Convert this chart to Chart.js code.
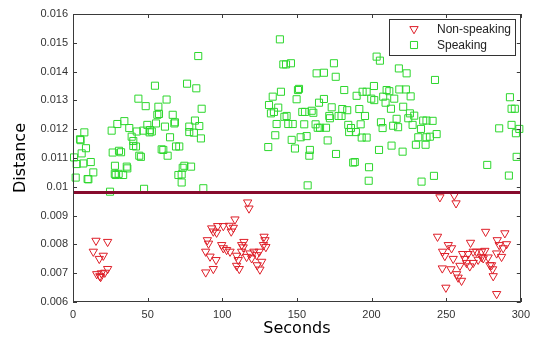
<html>
<head>
    <title>Distance vs Seconds</title>
    <script src="https://cdn.jsdelivr.net/npm/chart.js@4"></script>
    <style>
        body { margin: 0; background: #fff; }
    </style>
</head>
<body>
    <canvas id="distChart" width="536" height="340"></canvas>

    <script>
        var nonSpeakingX = [15.4, 23.2, 13.6, 20.3, 17.6, 23.2, 15.9, 18, 19, 21.3, 18.5,
            117, 117.9, 108.5, 92.9, 96.9, 100.7, 104.7, 107.4, 106, 96.2, 94, 90, 90.8, 88.9, 91.8, 95.8,
            99.6, 100.7, 102.9, 105.2, 94, 88.9, 114.5, 113, 113, 109.6, 110.7, 111.4, 109.6, 116.3, 118.6,
            121.2, 119.7, 123, 123.4, 125.2, 126.4, 128, 128.6, 127.6, 129.2, 124.8, 114,
            245.8, 255.4, 256.6, 244.2, 276.4, 289.3, 284.2, 285.5, 290.4, 288.2, 287.1, 251.4, 253.6, 247.6,
            249.1, 254.7, 247.4, 253.2, 257, 260.3, 258, 249.8, 283.8, 259.2, 261, 262.5, 264.7, 266.3, 268.1,
            270.3, 271.4, 268.1, 273.7, 274.8, 275.9, 278.1, 280.4, 281.1, 281.5, 279.3, 263.6, 265.8, 273.7, 283.8];
        var nonSpeakingY = [0.00813, 0.00809, 0.00775, 0.00761, 0.0075, 0.00715, 0.00697, 0.0069, 0.007, 0.00702, 0.00687,
            0.00946, 0.00925, 0.00887, 0.00856, 0.00864, 0.00864, 0.00865, 0.00858, 0.00845, 0.00841, 0.00845, 0.00815, 0.00803, 0.00775, 0.00758, 0.00746,
            0.00798, 0.00787, 0.00781, 0.00775, 0.00715, 0.00703, 0.00809, 0.00798, 0.00775, 0.00761, 0.00746, 0.00715, 0.00726, 0.00757, 0.00769,
            0.00775, 0.00752, 0.00763, 0.00728, 0.00713, 0.0074, 0.00827, 0.00815, 0.00798, 0.00791, 0.00775, 0.00790,
            0.00964, 0.0097, 0.00943, 0.00827, 0.00844, 0.00839, 0.00815, 0.00798, 0.00801, 0.00787, 0.00757, 0.00798, 0.00787, 0.00775,
            0.0076, 0.0075, 0.00717, 0.00714, 0.00697, 0.00674, 0.00685, 0.0065, 0.00628, 0.00726, 0.00767, 0.0075, 0.00767, 0.00806, 0.00775,
            0.00775, 0.00747, 0.00736, 0.00775, 0.00752, 0.00778, 0.00755, 0.00728, 0.00714, 0.0069, 0.00728, 0.00736, 0.00724, 0.00756, 0.00769];

        var speakingX = [83.9, 54.9, 76.4, 82.6, 43.8, 48.7, 62.7, 57.2, 86.2, 57.6, 56.5, 66.8, 68.3, 67.9, 34.4, 29.7, 25.9, 37.7,
            42.7, 39.3, 40.4, 47.1, 49.8, 51.6, 51.3, 52.8, 55.6, 61.6, 7.6, 4.7, 5.1, 8.7, 5.8, 0.7, 2.5, 6.9, 11.9, 13.6, 10.3, 1.8,
            24.8, 47.6, 87.3, 26.6, 30.8, 32.2, 28.1, 36, 36.4, 28.6, 33.6, 40.4, 42.2, 44.4, 45.5, 59.4, 60.5, 63.4, 65, 69, 71.2,
            77.9, 77.9, 81, 84.6, 85.7, 81.7, 74.6, 79.1, 73.5, 72.8, 70.6, 72.8, 9.8, 28, 30.6,
            138.6, 140.9, 142.7, 146, 163.2, 168.1, 174.8, 176, 151.4, 150.7, 149.8, 139.3, 133.8, 131.3, 132.6, 134.6, 137.5, 136.4,
            135.5, 130.8, 143.1, 141.6, 144.2, 147.2, 146.5, 148.7, 152.5, 156.5, 153.6, 155.4, 159.9, 161, 154.9, 162.5, 164.8, 168.1,
            163.9, 165.5, 169.5, 173.3, 171.7, 172.1, 177.9, 179.9, 180.4, 183.7, 181.7, 190, 194, 196.7, 191.8, 195.6, 184.4, 186.2,
            185, 189.5, 192.7, 193.4, 196.7, 170.6, 176.2, 158.7, 158.3, 187.7, 188.8, 198.3, 198.1, 157.2,
            203.4, 205.6, 218.3, 223.5, 242.5, 201.6, 210.1, 211.9, 218.6, 223, 226.2, 199.8, 201.8, 207.8, 209.4, 215.2, 213, 221.2,
            206.3, 207.4, 214.5, 217.8, 216.8, 224.6, 225.7, 228.6, 227.5, 233.1, 234.6, 236.8, 240.9, 243.6, 239.1, 236.8, 231.3,
            229.7, 236.2, 205, 213.4, 220.8, 233.5, 241.8, 277.5, 285.5, 292, 292.7, 293.8, 296, 293.8, 296.7, 299, 297.2];
        var speakingY = [0.01454, 0.01351, 0.01358, 0.01342, 0.01306, 0.0128, 0.01303, 0.01278, 0.01271, 0.01253, 0.0125, 0.0125, 0.01224, 0.0122, 0.01228, 0.01218, 0.01195, 0.01204,
            0.01192, 0.01174, 0.01159, 0.01195, 0.01215, 0.01197, 0.01189, 0.01192, 0.0122, 0.01209, 0.01189, 0.01165, 0.01162, 0.01134, 0.01116, 0.01102, 0.01079, 0.01081, 0.01086, 0.0105, 0.01026, 0.01032,
            0.00983, 0.00993, 0.00995, 0.01119, 0.01125, 0.0112, 0.01073, 0.0107, 0.01064, 0.01041, 0.01041, 0.01142, 0.0114, 0.01108, 0.01104, 0.0113, 0.01128, 0.01108, 0.01172, 0.0114, 0.0114,
            0.01209, 0.0119, 0.01188, 0.01211, 0.01168, 0.0123, 0.01073, 0.0107, 0.01066, 0.01043, 0.01041, 0.01015, 0.01027, 0.01045, 0.01045,
            0.01512, 0.01425, 0.01425, 0.01429, 0.01394, 0.01396, 0.01429, 0.01382, 0.0134, 0.01336, 0.01304, 0.0133, 0.01313, 0.01284, 0.01255, 0.0126, 0.01275, 0.01218,
            0.01179, 0.01138, 0.01246, 0.01243, 0.01218, 0.01218, 0.01163, 0.01133, 0.01172, 0.01176, 0.0126, 0.0126, 0.01264, 0.01257, 0.01217, 0.01217, 0.01292, 0.01305,
            0.01205, 0.01205, 0.01205, 0.01276, 0.01246, 0.01238, 0.01246, 0.01246, 0.0127, 0.01266, 0.01336, 0.01316, 0.0133, 0.0133, 0.0127, 0.01246, 0.01215, 0.01204,
            0.0119, 0.0119, 0.01217, 0.01171, 0.01171, 0.01161, 0.01114, 0.01128, 0.01108, 0.01084, 0.01086, 0.01068, 0.01021, 0.01005,
            0.01452, 0.01438, 0.01411, 0.01394, 0.01371, 0.0135, 0.01336, 0.01332, 0.01338, 0.01338, 0.01314, 0.01306, 0.01301, 0.01313, 0.01292, 0.01306, 0.01271, 0.01278,
            0.01224, 0.01204, 0.01212, 0.01207, 0.01236, 0.01238, 0.01255, 0.01247, 0.01215, 0.01201, 0.0123, 0.0123, 0.01229, 0.01183, 0.01174, 0.01172, 0.01172,
            0.01146, 0.01146, 0.01128, 0.01143, 0.01122, 0.01018, 0.01038, 0.01076, 0.01203, 0.01039, 0.01311, 0.01271, 0.01271, 0.01215, 0.01186, 0.01201, 0.01104];

        // threshold line
        var thresholdX = [0, 300];
        var thresholdY = [0.0098, 0.0098];

        var seriesNames = ['Non-speaking', 'Speaking'];
        var xTicks = [0, 50, 100, 150, 200, 250, 300];
        var yTicks = [0.006, 0.007, 0.008, 0.009, 0.01, 0.011, 0.012, 0.013, 0.014, 0.015, 0.016];

        const RED = 'rgb(222, 30, 40)';
        const GREEN = 'rgb(45, 215, 45)';
        const LINE = 'rgb(135, 10, 45)';

        function toPoints(xs, ys) {
            let pts = [];
            for (let i = 0; i < xs.length; i++) {
                pts.push({ x: xs[i], y: ys[i] });
            }
            return pts;
        }

        // box round the plot, inward ticks, legend
        const framePlugin = {
            id: 'frame',
            afterDraw(chart) {
                const ctx = chart.ctx;
                const a = chart.chartArea;
                const xs = chart.scales.x, ys = chart.scales.y;
                ctx.save();
                ctx.strokeStyle = '#3a3a3a';
                ctx.lineWidth = 1;
                ctx.strokeRect(Math.round(a.left) + 0.5, Math.round(a.top) + 0.5, Math.round(a.width) - 1, Math.round(a.height) - 1);
                ctx.beginPath();
                xTicks.forEach(v => {
                    const px = Math.round(xs.getPixelForValue(v)) + 0.5;
                    ctx.moveTo(px, a.top); ctx.lineTo(px, a.top + 4);
                    ctx.moveTo(px, a.bottom); ctx.lineTo(px, a.bottom - 4);
                });
                yTicks.forEach(v => {
                    const py = Math.round(ys.getPixelForValue(v)) + 0.5;
                    ctx.moveTo(a.left, py); ctx.lineTo(a.left + 4, py);
                    ctx.moveTo(a.right, py); ctx.lineTo(a.right - 4, py);
                });
                ctx.stroke();

                // legend
                const lx = 389, ly = 19, lw = 126, lh = 36;
                ctx.fillStyle = '#fff';
                ctx.fillRect(lx, ly, lw, lh);
                ctx.strokeStyle = '#333';
                ctx.strokeRect(lx + 0.5, ly + 0.5, lw, lh);
                ctx.lineWidth = 1;
                ctx.fillStyle = 'rgba(0,0,0,0)';
                ctx.strokeStyle = RED;
                Chart.helpers.drawPoint(ctx, { pointStyle: 'triangle', rotation: 180, radius: 4.8, borderWidth: 1 }, 414, 29);
                ctx.strokeStyle = GREEN;
                Chart.helpers.drawPoint(ctx, { pointStyle: 'rect', rotation: 0, radius: 5, borderWidth: 1 }, 414, 45);
                ctx.fillStyle = '#222';
                ctx.font = '12px "Liberation Sans", Arial, sans-serif';
                ctx.textBaseline = 'middle';
                ctx.textAlign = 'left';
                ctx.fillText(seriesNames[0], 437, 30);
                ctx.fillText(seriesNames[1], 437, 46);
                ctx.restore();
            }
        };

        const config = {
            type: 'scatter',
            data: {
                datasets: [
                    {
                        type: 'line',
                        label: 'threshold',
                        data: toPoints(thresholdX, thresholdY),
                        borderColor: LINE,
                        borderWidth: 3,
                        pointRadius: 0,
                        fill: false,
                        order: 0
                    },
                    {
                        label: seriesNames[0],
                        data: toPoints(nonSpeakingX, nonSpeakingY),
                        pointStyle: 'triangle',
                        rotation: 180,
                        radius: 4.8,
                        borderColor: RED,
                        backgroundColor: 'rgba(0,0,0,0)',
                        borderWidth: 1,
                        clip: false,
                        order: 1
                    },
                    {
                        label: seriesNames[1],
                        data: toPoints(speakingX, speakingY),
                        pointStyle: 'rect',
                        radius: 5,
                        borderColor: GREEN,
                        backgroundColor: 'rgba(0,0,0,0)',
                        borderWidth: 1,
                        clip: false,
                        order: 1
                    }
                ]
            },
            options: {
                responsive: false,
                animation: false,
                layout: { padding: { left: 0, top: 14, right: 15, bottom: 0 } },
                plugins: {
                    legend: { display: false },
                    tooltip: { enabled: false }
                },
                scales: {
                    x: {
                        type: 'linear',
                        min: 0,
                        max: 300,
                        afterFit: s => { s.height = 38; },
                        afterBuildTicks: s => { s.ticks = xTicks.map(v => ({ value: v })); },
                        grid: { display: false, drawTicks: false },
                        border: { display: false },
                        ticks: {
                            padding: 6,
                            color: '#333',
                            font: { family: '"Liberation Sans", Arial, sans-serif', size: 11 }
                        },
                        title: {
                            display: true,
                            text: 'Seconds',
                            color: '#000',
                            padding: { top: 0, bottom: 2 },
                            font: { family: '"DejaVu Sans", Verdana, sans-serif', size: 16 }
                        }
                    },
                    y: {
                        type: 'linear',
                        min: 0.006,
                        max: 0.016,
                        afterFit: s => { s.width = 73; },
                        afterBuildTicks: s => { s.ticks = yTicks.map(v => ({ value: v })); },
                        grid: { display: false, drawTicks: false },
                        border: { display: false },
                        ticks: {
                            padding: 5,
                            color: '#333',
                            font: { family: '"Liberation Sans", Arial, sans-serif', size: 11 },
                            callback: v => String(Number(v.toFixed(3)))
                        },
                        title: {
                            display: true,
                            text: 'Distance',
                            color: '#000',
                            padding: { top: 11, bottom: 0 },
                            font: { family: '"DejaVu Sans", Verdana, sans-serif', size: 16 }
                        }
                    }
                }
            },
            plugins: [framePlugin]
        };

        var ctx = document.getElementById("distChart").getContext("2d");
        var distChart = new Chart(ctx, config);
    </script>
</body>
</html>
